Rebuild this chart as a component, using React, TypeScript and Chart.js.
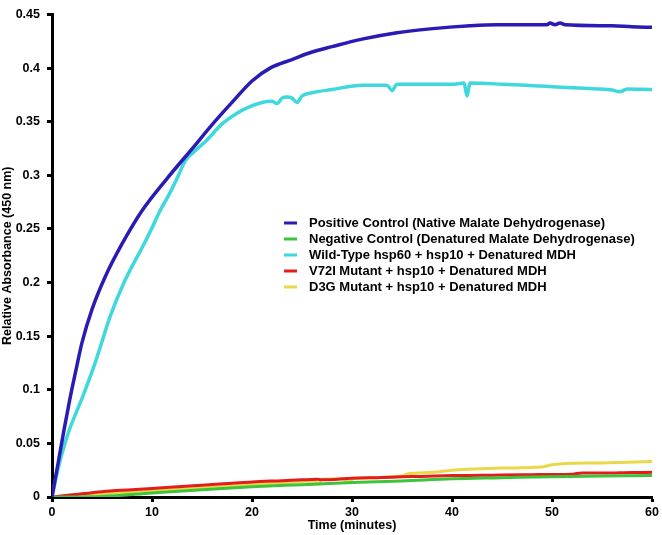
import React, { useEffect, useRef } from "react";
import { Chart, registerables } from "chart.js";

Chart.register(...registerables);

const seriesLabels = [
  "Positive Control (Native Malate Dehydrogenase)",
  "Negative Control (Denatured Malate Dehydrogenase)",
  "Wild-Type hsp60 + hsp10 + Denatured MDH",
  "V72I Mutant + hsp10 + Denatured MDH",
  "D3G Mutant + hsp10 + Denatured MDH",
];
const seriesColors = ["#2a1bb4", "#3cc43c", "#3fd8dc", "#e51c1c", "#e8d84a"];

const xTickLabels = ["0", "10", "20", "30", "40", "50", "60"];
const yTickLabels = ["0", "0.05", "0.1", "0.15", "0.2", "0.25", "0.3", "0.35", "0.4", "0.45"];

const positiveTime = [0, 0.3, 0.6, 1.17, 1.8, 2.5, 3.0, 4.0, 5.3, 7.0, 9.0, 11.5, 14.3, 15.8, 18, 20, 21.8, 24, 26, 28, 31, 34.5, 37.8, 41.8, 44.5, 49.5, 49.8, 50.3, 50.8, 51.3, 56, 58, 60];
const positiveValues = [0, 0.016, 0.031, 0.061, 0.092, 0.123, 0.144, 0.175, 0.205, 0.236, 0.267, 0.297, 0.328, 0.345, 0.368, 0.388, 0.4, 0.408, 0.415, 0.42, 0.427, 0.433, 0.4366, 0.4395, 0.4405, 0.4405, 0.442, 0.4405, 0.442, 0.4405, 0.4395, 0.4385, 0.438];

const negativeTime = [0, 5, 10, 15, 20, 25, 30, 35, 40, 45, 50, 55, 60];
const negativeValues = [0, 0.0005, 0.0037, 0.0068, 0.0095, 0.0115, 0.0135, 0.015, 0.017, 0.018, 0.019, 0.0195, 0.02];

const wildTypeTime = [0, 0.73, 1.17, 1.67, 3.0, 4.2, 5.0, 5.8, 7.2, 9.2, 10, 10.8, 11.7, 12.5, 13.3, 14.2, 15.5, 17, 18.5, 19.5, 21, 22, 22.5, 23, 23.5, 24, 24.5, 25, 26, 28, 31, 33.5, 34, 34.5, 36, 40, 41.2, 41.5, 41.8, 45, 47.8, 54.5, 56, 56.8, 57.5, 60];
const wildTypeValues = [0, 0.031, 0.046, 0.061, 0.092, 0.122, 0.145, 0.168, 0.2, 0.236, 0.251, 0.267, 0.282, 0.297, 0.313, 0.322, 0.333, 0.348, 0.358, 0.363, 0.368, 0.369, 0.367, 0.372, 0.373, 0.372, 0.368, 0.374, 0.377, 0.38, 0.384, 0.384, 0.379, 0.385, 0.385, 0.385, 0.386, 0.374, 0.386, 0.385, 0.3837, 0.3806, 0.3795, 0.378, 0.3805, 0.38];

const v72iTime = [0, 2, 5, 8, 10, 13, 15, 18, 20, 23, 25, 26.5, 27, 30, 33, 35, 37, 40, 43, 45, 48, 50, 52, 53, 55, 58, 60];
const v72iValues = [0, 0.002, 0.005, 0.0068, 0.008, 0.0098, 0.011, 0.0128, 0.0141, 0.0152, 0.016, 0.0165, 0.016, 0.0175, 0.0182, 0.0188, 0.0192, 0.02, 0.0202, 0.0205, 0.0208, 0.021, 0.0212, 0.0225, 0.0223, 0.0228, 0.023];

const d3gTime = [0, 2, 5, 10, 15, 20, 25, 26.3, 26.6, 27, 29, 29.7, 30.2, 32, 34, 35, 35.5, 38, 40, 45, 49, 50, 51, 55, 60];
const d3gValues = [0, 0.001, 0.003, 0.0055, 0.0085, 0.0116, 0.0145, 0.015, 0.012, 0.0165, 0.017, 0.0145, 0.0175, 0.018, 0.019, 0.0195, 0.0215, 0.023, 0.025, 0.027, 0.028, 0.03, 0.031, 0.0318, 0.033];

const seriesTimes = [positiveTime, negativeTime, wildTypeTime, v72iTime, d3gTime];
const seriesValues = [positiveValues, negativeValues, wildTypeValues, v72iValues, d3gValues];

const FONT_FAMILY = "'Liberation Sans', Arial, sans-serif";

const insideLegend = {
  id: "insideLegend",
  afterDraw(chart: any) {
    const ctx = chart.ctx;
    ctx.save();
    ctx.font = `bold 13px ${FONT_FAMILY}`;
    ctx.textBaseline = "middle";
    ctx.textAlign = "left";
    chart.data.datasets.forEach((ds: any, i: number) => {
      const y = 223 + i * 16;
      ctx.strokeStyle = ds.borderColor;
      ctx.lineWidth = 3;
      ctx.beginPath();
      ctx.moveTo(284, y);
      ctx.lineTo(297, y);
      ctx.stroke();
      ctx.fillStyle = "#000";
      ctx.fillText(ds.label, 309, y);
    });
    ctx.restore();
  },
};

export default function App() {
  const ref = useRef<HTMLCanvasElement | null>(null);
  useEffect(() => {
    if (!ref.current) return;
    const datasets = seriesLabels.map((label, i) => ({
      label,
      data: seriesTimes[i].map((t, j) => ({ x: t, y: seriesValues[i][j] })),
      borderColor: seriesColors[i],
      backgroundColor: seriesColors[i],
      borderWidth: i === 0 || i === 2 ? 3.5 : 3,
      pointRadius: 0,
      fill: false,
      cubicInterpolationMode: "monotone" as const,
    }));
    const chart = new Chart(ref.current, {
      type: "line",
      data: { datasets },
      plugins: [insideLegend],
      options: {
        animation: false,
        responsive: false,
        layout: { padding: { top: 7, right: 9, left: 0, bottom: 0 } },
        plugins: { legend: { display: false }, tooltip: { enabled: false } },
        scales: {
          x: {
            type: "linear",
            min: 0,
            max: 60,
            afterFit: (s: any) => {
              s.height = 38;
            },
            ticks: {
              stepSize: 10,
              padding: 3,
              color: "#000",
              font: { family: FONT_FAMILY, size: 12.5, weight: "bold" },
              callback: (v: any) => xTickLabels[Math.round(Number(v) / 10)] ?? "",
            },
            grid: { display: true, drawOnChartArea: false, drawTicks: true, tickLength: 5, tickWidth: 3, tickColor: "#000" },
            border: { display: true, color: "#000", width: 3 },
            title: {
              display: true,
              text: "Time (minutes)",
              color: "#000",
              padding: { top: 0, bottom: 1.5 },
              font: { family: FONT_FAMILY, size: 12.5, weight: "bold" },
            },
          },
          y: {
            type: "linear",
            min: 0,
            max: 0.45,
            afterFit: (s: any) => {
              s.width = 52;
            },
            ticks: {
              stepSize: 0.05,
              padding: 7,
              color: "#000",
              font: { family: FONT_FAMILY, size: 12.5, weight: "bold" },
              callback: (v: any) => yTickLabels[Math.round(Number(v) / 0.05)] ?? "",
            },
            grid: { display: true, drawOnChartArea: false, drawTicks: true, tickLength: 5, tickWidth: 3, tickColor: "#000" },
            border: { display: true, color: "#000", width: 3 },
            title: {
              display: true,
              text: "Relative Absorbance (450 nm)",
              color: "#000",
              padding: { top: 0.5, bottom: 0 },
              font: { family: FONT_FAMILY, size: 12.5, weight: "bold" },
            },
          },
        },
      },
    });
    return () => chart.destroy();
  }, []);
  return (
    <div style={{ position: "absolute", left: 0, top: 0, width: 662, height: 535, background: "#fff" }}>
      <canvas ref={ref} width={662} height={535} style={{ display: "block" }} />
    </div>
  );
}
